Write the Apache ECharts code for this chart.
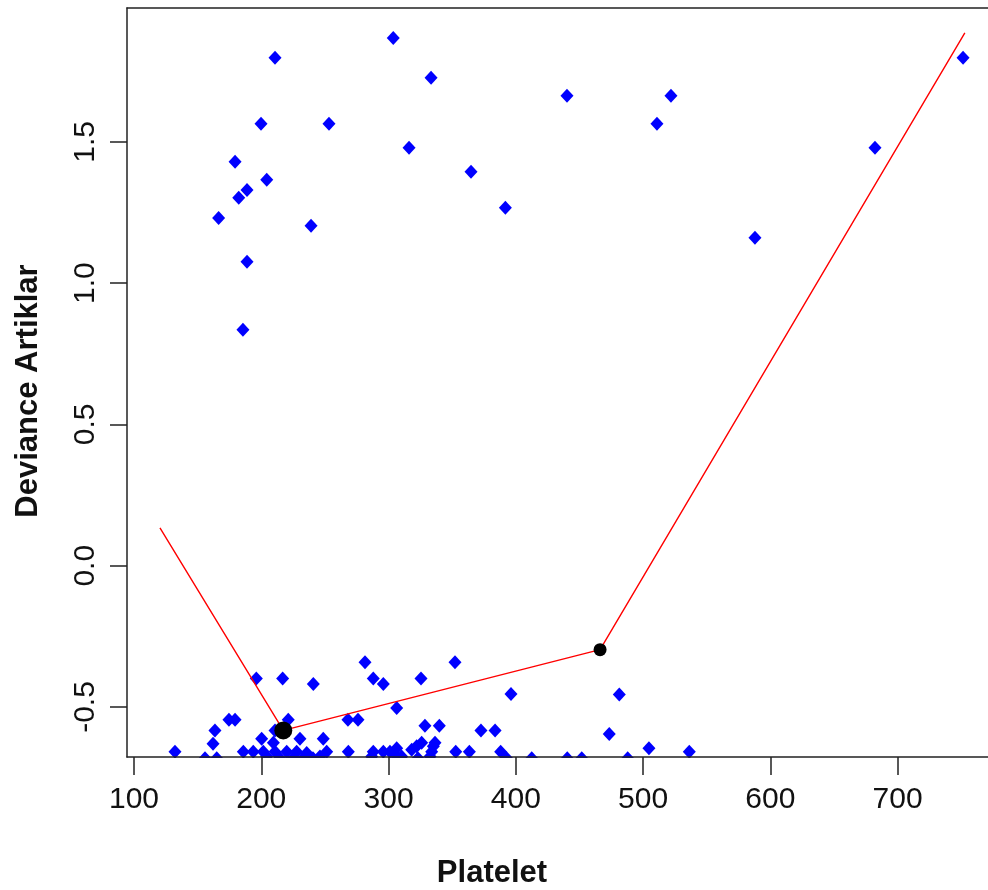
<!DOCTYPE html>
<html><head><meta charset="utf-8">
<script src="https://cdn.jsdelivr.net/npm/echarts@6/dist/echarts.min.js"></script>
<style>html,body{margin:0;padding:0;background:#fff}#c{width:988px;height:890px}</style>
</head><body><div id="c"></div>
<script>
// ---- data ----
const xTicks = [100, 200, 300, 400, 500, 600, 700];
const yTicks = [-0.5, 0, 0.5, 1, 1.5];

// residuals of observations with outcome = 1 (upper band)
const upperPlatelet = [210.8, 303.7, 333.4, 199.8, 253.2, 179.4, 316.1, 204.3, 188.8, 182.3, 364.8, 166.5, 239.1, 391.8, 188.8, 185.6, 440.2, 521.9, 510.9, 682.2, 587.9, 751.4];
const upperResid   = [1.798, 1.868, 1.727, 1.564, 1.564, 1.430, 1.479, 1.366, 1.330, 1.302, 1.394, 1.231, 1.203, 1.267, 1.076, 0.835, 1.663, 1.663, 1.564, 1.479, 1.161, 1.798];

// residuals of observations with outcome = 0 (lower band)
const lowerPlatelet = [132.2, 163.6, 162.1, 155.8, 165.0, 174.6, 179.4, 196.1, 216.8, 240.9, 200.3, 210.8, 221.2, 230.4, 209.5, 185.9, 193.7, 201.6, 210.8, 220.0, 227.8, 235.7, 204.3, 214.7, 224.9, 232.8, 240.6, 248.7, 251.4, 268.1, 276.0, 281.5, 288.0, 295.9, 306.4, 268.4, 288.0, 295.9, 301.1, 306.4, 305.1, 318.2, 246.1, 286.8, 310.3, 325.5, 352.2, 328.6, 339.9, 372.6, 383.7, 322.1, 326.0, 335.2, 336.5, 333.9, 323.1, 332.6, 352.8, 363.5, 388.1, 392.8, 396.2, 412.5, 440.4, 451.8, 481.3, 473.4, 504.6, 536.3, 487.9];
const lowerResid   = [-0.658, -0.583, -0.630, -0.681, -0.681, -0.545, -0.545, -0.399, -0.399, -0.419, -0.612, -0.583, -0.545, -0.612, -0.627, -0.658, -0.658, -0.658, -0.658, -0.658, -0.658, -0.663, -0.675, -0.681, -0.681, -0.681, -0.681, -0.612, -0.658, -0.545, -0.545, -0.342, -0.399, -0.419, -0.504, -0.658, -0.658, -0.658, -0.658, -0.646, -0.669, -0.651, -0.675, -0.675, -0.675, -0.399, -0.342, -0.566, -0.566, -0.583, -0.583, -0.639, -0.627, -0.639, -0.627, -0.658, -0.681, -0.675, -0.658, -0.658, -0.658, -0.681, -0.454, -0.681, -0.681, -0.681, -0.456, -0.596, -0.646, -0.658, -0.681];

// fitted piecewise line and its knots
const fitPlatelet = [120.4, 217.3, 466.2, 752.8];
const fitResid    = [0.134, -0.583, -0.297, 1.886];
const knotPlatelet = [217.3, 466.2];
const knotResid    = [-0.583, -0.297];
const knotSizes    = [18, 13];

const xTitle = 'Platelet';
const yTitle = 'Deviance Artiklar';

// ---- build ----
const pts = [];
upperPlatelet.forEach((v, i) => pts.push([v, upperResid[i]]));
lowerPlatelet.forEach((v, i) => pts.push([v, lowerResid[i]]));
const fitLine = fitPlatelet.map((v, i) => [v, fitResid[i]]);
const knots = knotPlatelet.map((v, i) => ({value: [v, knotResid[i]], symbolSize: knotSizes[i]}));

const FONT = '"Liberation Sans", Arial, sans-serif';
const axisCol = '#222';
const chart = echarts.init(document.getElementById('c'), null, {renderer: 'canvas'});
chart.setOption({
  animation: false,
  backgroundColor: '#fff',
  grid: {left: 127, right: 0, top: 8, bottom: 133, containLabel: false},
  xAxis: [{
    type: 'value', min: 94.5, max: 771, z: 20,
    axisLine: {show: true, onZero: false, lineStyle: {color: axisCol, width: 1.5}},
    axisTick: {show: true, length: 18, customValues: xTicks, lineStyle: {color: axisCol, width: 1.5}},
    axisLabel: {show: true, customValues: xTicks, margin: 28, fontSize: 30, color: '#111', fontFamily: FONT},
    splitLine: {show: false}
  }, {
    type: 'value', position: 'top', min: 94.5, max: 771,
    axisLine: {show: true, onZero: false, lineStyle: {color: axisCol, width: 1.5}},
    axisTick: {show: false}, axisLabel: {show: false}, splitLine: {show: false}
  }],
  yAxis: {
    type: 'value', min: -0.677, max: 1.974, z: 20,
    axisLine: {show: true, onZero: false, lineStyle: {color: axisCol, width: 1.5}},
    axisTick: {show: true, length: 17, customValues: yTicks, lineStyle: {color: axisCol, width: 1.5}},
    axisLabel: {show: true, customValues: yTicks, rotate: 90, margin: 26, fontSize: 30, color: '#111', fontFamily: FONT,
      formatter: v => Number(v).toFixed(1)},
    splitLine: {show: false}
  },
  graphic: [
    {type: 'rect', z: 10, silent: true, shape: {x: 128, y: 758, width: 860, height: 14}, style: {fill: '#fff'}},
    {type: 'text', z: 30, x: 492, y: 873, style: {text: xTitle, font: 'bold 31px ' + FONT, fill: '#111', align: 'center', verticalAlign: 'middle'}},
    {type: 'text', z: 30, x: 28, y: 391, rotation: Math.PI / 2, style: {text: yTitle, font: 'bold 31px ' + FONT, fill: '#111', align: 'center', verticalAlign: 'middle'}}
  ],
  series: [
    {type: 'scatter', z: 2, clip: false, data: pts, symbol: 'diamond', symbolSize: [13, 14], itemStyle: {color: '#0000ff', opacity: 1}},
    {type: 'line', z: 3, data: fitLine, showSymbol: false, symbol: 'none', lineStyle: {color: '#ff0000', width: 1.4, opacity: 1}},
    {type: 'scatter', z: 4, data: knots, symbol: 'circle', itemStyle: {color: '#000', opacity: 1}}
  ]
});
</script></body></html>
